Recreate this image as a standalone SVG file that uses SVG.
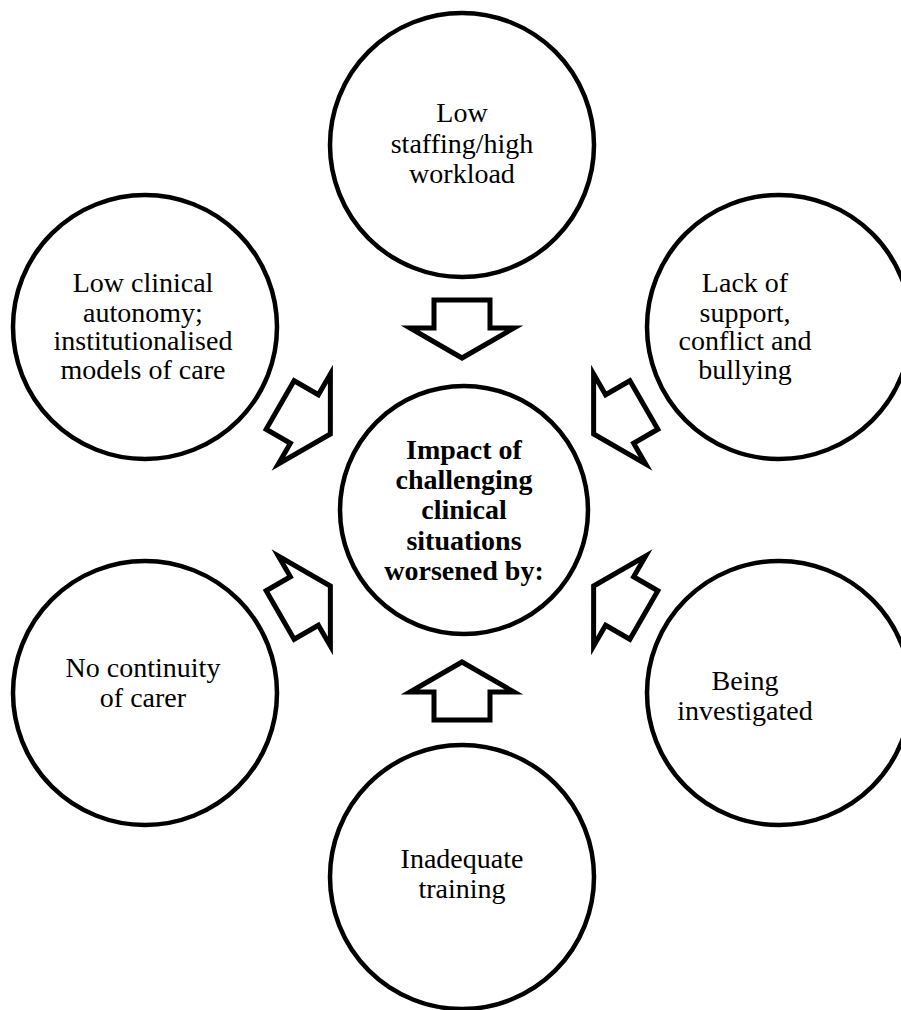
<svg xmlns="http://www.w3.org/2000/svg" xmlns:xlink="http://www.w3.org/1999/xlink" width="901" height="1010" viewBox="0 0 901 1010">
<style>
.c{fill:#fff;stroke:#000;stroke-width:4.5}
.a{fill:#fff;stroke:#000;stroke-width:5;stroke-linejoin:miter;stroke-miterlimit:10}
.t{font-family:"Liberation Serif","Times New Roman",serif;font-size:28px;fill:#000;text-anchor:middle}
.b{font-weight:bold}
</style>
<defs>
<path id="arr" d="M0,0 L30,-52 L30,-28 L58,-28 L58,28 L30,28 L30,52 Z"/>
</defs>
<rect width="901" height="1010" fill="#fff"/>
<g id="connectors">
<use xlink:href="#arr" class="a" transform="translate(462,510) rotate(-90) translate(152,0)"/>
<use xlink:href="#arr" class="a" transform="translate(462,510) rotate(90) translate(152,0)"/>
<use xlink:href="#arr" class="a" transform="translate(462,510) rotate(-150) translate(152,0)"/>
<use xlink:href="#arr" class="a" transform="translate(462,510) rotate(-30) translate(152,0)"/>
<use xlink:href="#arr" class="a" transform="translate(462,510) rotate(150) translate(152,0)"/>
<use xlink:href="#arr" class="a" transform="translate(462,510) rotate(30) translate(152,0)"/>
</g>
<g id="center">
<circle class="c" cx="464" cy="510" r="124"/>
<text class="t b" x="464" y="459">Impact of</text>
<text class="t b" x="464" y="489">challenging</text>
<text class="t b" x="464" y="519">clinical</text>
<text class="t b" x="464" y="550">situations</text>
<text class="t b" x="464" y="580">worsened by:</text>
</g>
<g id="top">
<circle class="c" cx="462" cy="145" r="132"/>
<text class="t" x="462" y="122">Low</text>
<text class="t" x="462" y="153">staffing/high</text>
<text class="t" x="462" y="183">workload</text>
</g>
<g id="upper-left">
<circle class="c" cx="145" cy="327" r="132"/>
<text class="t" x="143" y="292">Low clinical</text>
<text class="t" x="143" y="322">autonomy;</text>
<text class="t" x="143" y="350">institutionalised</text>
<text class="t" x="143" y="379">models of care</text>
</g>
<g id="upper-right">
<circle class="c" cx="779" cy="327" r="132"/>
<text class="t" x="745" y="292">Lack of</text>
<text class="t" x="745" y="322">support,</text>
<text class="t" x="745" y="350">conflict and</text>
<text class="t" x="745" y="379">bullying</text>
</g>
<g id="lower-left">
<circle class="c" cx="145" cy="693" r="132"/>
<text class="t" x="143" y="677">No continuity</text>
<text class="t" x="143" y="707">of carer</text>
</g>
<g id="lower-right">
<circle class="c" cx="779" cy="693" r="132"/>
<text class="t" x="745" y="690">Being</text>
<text class="t" x="745" y="720">investigated</text>
</g>
<g id="bottom">
<circle class="c" cx="462" cy="877" r="132"/>
<text class="t" x="462" y="868">Inadequate</text>
<text class="t" x="462" y="898">training</text>
</g>
</svg>
